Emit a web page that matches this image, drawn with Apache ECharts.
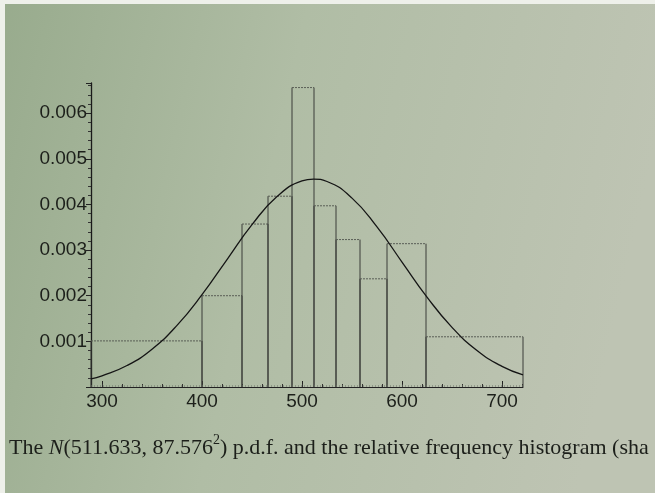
<!DOCTYPE html>
<html><head><meta charset="utf-8">
<script src="https://cdn.jsdelivr.net/npm/echarts@6/dist/echarts.min.js"></script>
<style>html,body{margin:0;padding:0;}#c{width:655px;height:493px;}</style>
</head><body><div id="c"></div>
<script>
// Histogram class boundaries and relative-frequency heights
var binEdges = [289, 400, 440, 466, 490, 512, 534, 558, 585, 624, 721];
var binHeights = [0.00101, 0.00200, 0.00357, 0.00418, 0.00656, 0.00397, 0.00323, 0.00237, 0.00314, 0.00110];
// Curve points
var curveX = [289, 300, 325, 350, 375, 400, 425, 450, 475, 500, 511.6, 525, 550, 575, 600, 625, 650, 675, 700, 721];
var curveY = [0.000180, 0.000245, 0.000470, 0.000829, 0.001349, 0.002022, 0.002793, 0.003556, 0.004173, 0.004515, 0.004555, 0.004502, 0.004138, 0.003506, 0.002738, 0.001970, 0.001307, 0.000800, 0.000451, 0.000265];
var xTickLabels = [300, 400, 500, 600, 700];
var xMinorTicks = [300, 320, 340, 360, 380, 400, 420, 440, 460, 480, 500, 520, 540, 560, 580, 600, 620, 640, 660, 680, 700, 720];
var yTickLabels = [0.001, 0.002, 0.003, 0.004, 0.005, 0.006];
var captionParts = ['The ', 'N', '(511.633, 87.576', '2', ') p.d.f. and the relative frequency histogram (sha'];

var bins = binHeights.map(function (h, i) { return [binEdges[i], binEdges[i + 1], h]; });
var curve = curveX.map(function (x, i) { return [x, curveY[i]]; });

var chart = echarts.init(document.getElementById('c'));
var textCol = '#1c1f1a';
chart.setOption({
  backgroundColor: {
    type: 'linear', x: 0, y: 0, x2: 1, y2: 0.3,
    colorStops: [
      {offset: 0, color: '#98ab8d'},
      {offset: 0.45, color: '#b0bda5'},
      {offset: 1, color: '#bec4b3'}
    ]
  },
  animation: false,
  grid: {left: 91, right: 132, top: 83, bottom: 106},
  xAxis: [{
    type: 'value', min: 289, max: 721,
    axisLine: {lineStyle: {color: '#222', width: 1}},
    axisTick: {show: true, inside: true, length: 6, customValues: xTickLabels, lineStyle: {color: '#222'}},
    axisLabel: {customValues: xTickLabels, color: textCol, fontSize: 19, fontFamily: 'Liberation Sans', margin: 5},
    splitLine: {show: false}
  }, {
    type: 'value', min: 289, max: 721, position: 'bottom',
    axisLine: {show: false},
    axisTick: {show: true, inside: true, length: 3, customValues: xMinorTicks, lineStyle: {color: '#333'}},
    axisLabel: {show: false},
    splitLine: {show: false}
  }],
  yAxis: {
    type: 'value', min: 0, max: 0.00666, interval: 0.001,
    axisLine: {show: true, lineStyle: {color: '#1a1a1a', width: 1.3}},
    axisTick: {show: true, length: 5, lineStyle: {color: '#222'}},
    minorTick: {show: true, splitNumber: 5, length: 3, lineStyle: {color: '#333'}},
    axisLabel: {
      showMinLabel: false, showMaxLabel: false,
      color: textCol, fontSize: 19, fontFamily: 'Liberation Sans', margin: 4,
      formatter: function (v) { return v === 0 ? '' : v.toFixed(3); }
    },
    splitLine: {show: false}
  },
  series: [{
    type: 'custom',
    data: bins,
    encode: {x: [0, 1], y: 2},
    renderItem: function (params, api) {
      var p0 = api.coord([api.value(0), 0]);
      var p1 = api.coord([api.value(1), api.value(2)]);
      var stroke = '#3a3d38';
      return {
        type: 'group',
        children: [
          {type: 'line', shape: {x1: p0[0], y1: p0[1], x2: p0[0], y2: p1[1]}, style: {stroke: stroke, lineWidth: 1}},
          {type: 'line', shape: {x1: p1[0], y1: p0[1], x2: p1[0], y2: p1[1]}, style: {stroke: stroke, lineWidth: 1}},
          {type: 'line', shape: {x1: p0[0], y1: p1[1], x2: p1[0], y2: p1[1]}, style: {stroke: '#5a5e56', lineWidth: 1, lineDash: [2, 1]}},
          {type: 'line', shape: {x1: p0[0], y1: p0[1] - 1, x2: p1[0], y2: p0[1] - 1}, style: {stroke: '#6a7066', lineWidth: 1, lineDash: [1, 2]}}
        ]
      };
    },
    z: 2
  }, {
    type: 'line',
    data: curve,
    smooth: true,
    showSymbol: false,
    lineStyle: {color: '#151515', width: 1.3},
    z: 3
  }],
  graphic: [
    {type: 'rect', left: 0, top: 0, shape: {width: 655, height: 4}, style: {fill: '#eef0ea'}, silent: true},
    {type: 'rect', left: 0, top: 0, shape: {width: 5, height: 493}, style: {fill: '#eef0ea'}, silent: true},
    {
      type: 'text', left: 9, top: 433,
      style: {
        text: '{a|' + captionParts[0] + '}{i|' + captionParts[1] + '}{a|' + captionParts[2] + '}{s|' + captionParts[3] + '}{a|' + captionParts[4] + '}',
        rich: {
          a: {fontFamily: 'Liberation Serif', fontSize: 22, fill: textCol, lineHeight: 26, verticalAlign: 'bottom'},
          i: {fontFamily: 'Liberation Serif', fontStyle: 'italic', fontSize: 22, fill: textCol, lineHeight: 26, verticalAlign: 'bottom'},
          s: {fontFamily: 'Liberation Serif', fontSize: 14, fill: textCol, lineHeight: 26, verticalAlign: 'top'}
        }
      }
    }
  ]
});
</script>
</body></html>
